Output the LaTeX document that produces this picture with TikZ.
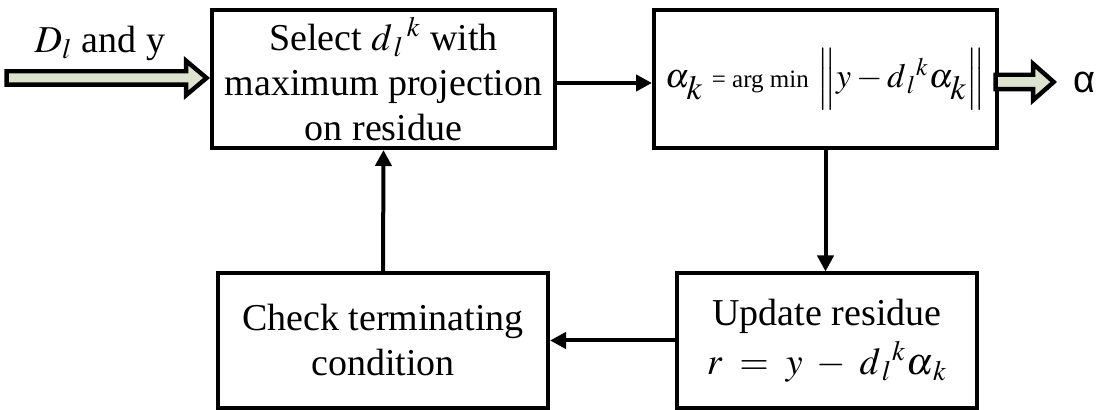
\documentclass[tikz,border=0pt]{standalone}
\usepackage{mathptmx}
\usepackage{fontspec}
\setmainfont{Liberation Serif}
\newfontfamily\alphafont{Liberation Sans}
\usepackage{tikz}
\usetikzlibrary{positioning, arrows.meta, calc, shapes.arrows}
\definecolor{arrfill}{RGB}{221,227,206}
\tikzset{
  blk/.style   = {draw, rectangle, align=center, line width=2pt, inner sep=2pt,
                  font=\fontsize{19}{22.5}\selectfont},
  ar/.style    = {-{Triangle[length=8pt, width=8pt]}, line width=2pt},
  fat/.style   = {single arrow, draw, fill=arrfill, line width=2.2pt, inner xsep=0pt,
                  single arrow head indent=0pt, anchor=tip},
  lbl/.style   = {font=\fontsize{19}{22}\selectfont, inner sep=1pt},
}

\begin{document}
\begin{tikzpicture}[x=0.5pt, y=-0.5pt]
  \useasboundingbox (0,0) rectangle (1106,410);
  % blocks
  \node[blk, minimum width=171.5pt, minimum height=69pt] (sel) at (383.5,79)
    {Select $d_{\,l}{}^{\,k}$ with\\maximum projection\\on residue};
  \node[blk, minimum width=171.5pt, minimum height=69pt] (opt) at (825.5,79)
    {\fontsize{17}{20}\selectfont$\alpha_{\lower3pt\hbox{$k$}}$
     {\fontsize{12.5}{14}\selectfont = arg\ min}
     $\Big\|y-d_{\,l}{}^{k}\alpha_{\lower3pt\hbox{$k$}}\Big\|$};
  \node[blk, minimum width=150pt, minimum height=67pt] (upd) at (827,340.5)
    {Update residue\\[2pt]$r\;=\;y\;-\;d_{\,l}{}^{k}\alpha_{\,k}$};
  \node[blk, minimum width=165pt, minimum height=67pt] (chk) at (383,340.5)
    {Check terminating\\condition};
  % loop
  \draw[ar] ([yshift=-2pt]sel.east) -- ([yshift=-2pt]opt.west);
  \draw[ar] (opt.south) -- (opt.south |- upd.north);
  \draw[ar] (upd.west) -- (chk.east);
  \draw[ar] (chk.north) -- (sel.south);
  % in / out
  \node[fat, inner ysep=2.25pt, minimum height=100pt, single arrow head extend=5.25pt,
        single arrow tip angle=80] (inarr) at ([yshift=0.5pt]sel.west) {};
  \node[fat, inner ysep=2.5pt, minimum height=29pt, single arrow head extend=5.5pt,
        single arrow tip angle=83] (outarr) at ($(opt.east)+(58,3)$) {};
  \node[lbl] (lblin) at (100,43) {$D_{l}$ and y};
  \node[lbl, right=7pt of outarr.tip] (lblout) {\alphafont α};
\end{tikzpicture}
\end{document}
